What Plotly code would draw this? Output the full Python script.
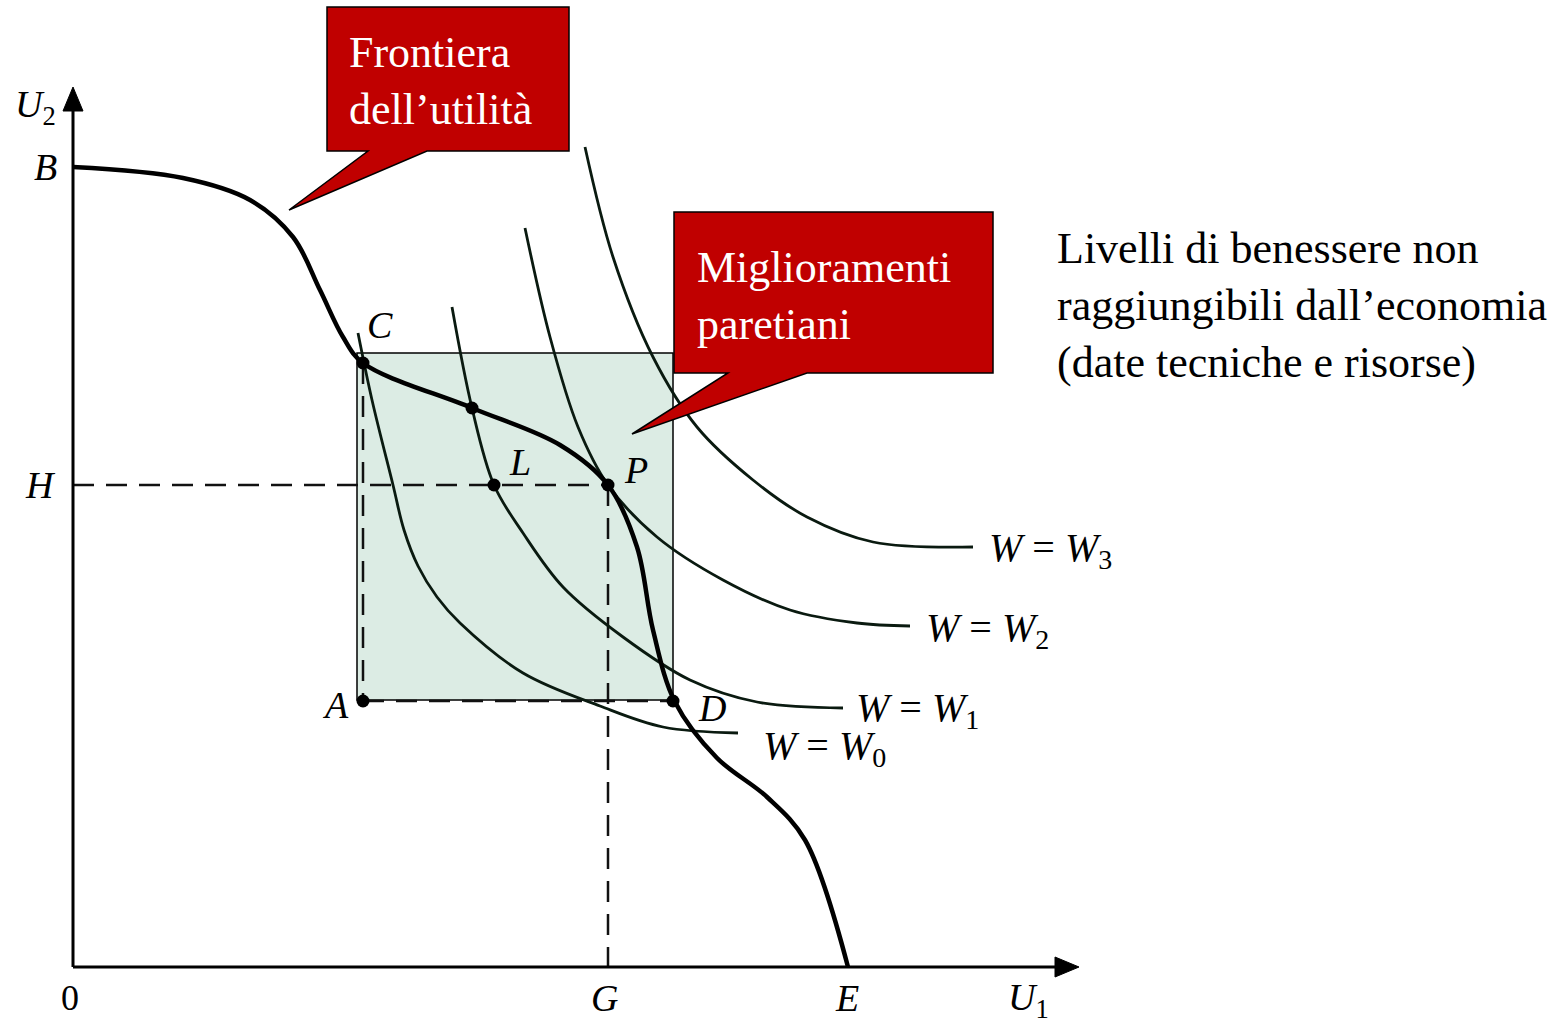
import plotly.graph_objects as go

# ---- data (U1, U2 units; origin at the axes' corner) ----
frontier_u1 = [0, 110, 177, 220, 247, 270, 290, 399, 487, 535, 564, 580, 602, 644, 694, 732, 775]
frontier_u2 = [800, 789, 767, 730, 677, 630, 604, 559, 522, 482, 420, 337, 265, 209, 170, 127, 0]

w0_u1 = [285, 299, 320, 331, 345, 364, 387, 450, 527, 590, 665]
w0_u2 = [634, 567, 482, 437, 401, 370, 344, 294, 261, 240, 234]

w1_u1 = [379, 399, 421, 450, 490, 550, 617, 684, 770]
w1_u2 = [660, 559, 482, 434, 380, 330, 287, 265, 259]

w2_u1 = [452, 477, 505, 535, 584, 650, 717, 784, 837]
w2_u2 = [739, 630, 540, 482, 430, 387, 357, 344, 341]

w3_u1 = [512, 540, 580, 624, 680, 734, 800, 900]
w3_u2 = [820, 710, 610, 540, 487, 450, 425, 420]

w_labels = ["<i>W</i> = <i>W</i><sub>0</sub>", "<i>W</i> = <i>W</i><sub>1</sub>",
            "<i>W</i> = <i>W</i><sub>2</sub>", "<i>W</i> = <i>W</i><sub>3</sub>"]

point_names = ["C", "", "L", "P", "A", "D"]
point_u1 = [290, 399, 421, 535, 290, 600]
point_u2 = [604, 559, 482, 482, 266, 266]

H_level = 482
G_level = 535
E_level = 775
B_level = 800

FONT = "Liberation Serif"

fig = go.Figure()

# shaded Pareto-improvement box
fig.add_shape(type="rect", x0=284, x1=600, y0=267, y1=614, xref="x", yref="y",
              fillcolor="rgb(220,236,228)", line=dict(color="black", width=1.5), layer="below")

# dashed guides
dash = "21px,12px"
guides = [
    ([0, G_level], [H_level, H_level]),
    ([G_level, G_level], [H_level, 0]),
    ([point_u1[0], point_u1[4]], [point_u2[0], point_u2[4]]),
    ([point_u1[4], point_u1[5]], [point_u2[4], point_u2[5]]),
]
for gx, gy in guides:
    fig.add_trace(go.Scatter(x=gx, y=gy, mode="lines", line=dict(color="#111", width=2.5, dash=dash),
                             hoverinfo="skip", showlegend=False))

# welfare curves
for cx, cy in [(w0_u1, w0_u2), (w1_u1, w1_u2), (w2_u1, w2_u2), (w3_u1, w3_u2)]:
    fig.add_trace(go.Scatter(x=cx, y=cy, mode="lines",
                             line=dict(color="#0a1a10", width=2.8, shape="spline", smoothing=1.0),
                             hoverinfo="skip", showlegend=False))

# utility frontier
fig.add_trace(go.Scatter(x=frontier_u1, y=frontier_u2, mode="lines",
                         line=dict(color="black", width=4.5, shape="spline", smoothing=1.0),
                         hoverinfo="skip", showlegend=False))

# axes
fig.add_trace(go.Scatter(x=[0, 0], y=[0, 862], mode="lines", line=dict(color="black", width=3),
                         hoverinfo="skip", showlegend=False))
fig.add_trace(go.Scatter(x=[0, 988], y=[0, 0], mode="lines", line=dict(color="black", width=3),
                         hoverinfo="skip", showlegend=False))
fig.add_shape(type="path", path="M -10 856 L 10 856 L 0 880 Z", xref="x", yref="y",
              fillcolor="black", line=dict(color="black", width=1))
fig.add_shape(type="path", path="M 982 -10 L 982 10 L 1006 0 Z", xref="x", yref="y",
              fillcolor="black", line=dict(color="black", width=1))

# points
fig.add_trace(go.Scatter(x=point_u1, y=point_u2, mode="markers", marker=dict(color="black", size=13),
                         hoverinfo="skip", showlegend=False))

# callouts
callout_line = dict(color="black", width=1.5)
fig.add_shape(type="path", xref="x", yref="y", layer="above",
              path="M 254 960 L 496 960 L 496 816 L 354 816 L 216 757 L 295 816 L 254 816 Z",
              fillcolor="#c00000", line=callout_line)
fig.add_shape(type="path", xref="x", yref="y", layer="above",
              path="M 601 755 L 920 755 L 920 594 L 734 594 L 559 533 L 655 594 L 601 594 Z",
              fillcolor="#c00000", line=callout_line)

def ann(x, y, text, size=36, color="black", xanchor="center", yanchor="middle", align="left"):
    fig.add_annotation(x=x, y=y, xref="x", yref="y", text=text, showarrow=False,
                       xanchor=xanchor, yanchor=yanchor, align=align,
                       font=dict(family=FONT, size=size, color=color))

ann(274, 886, "Frontiera<br>dell’utilità", size=44, color="white", xanchor="left")
ann(622, 671, "Miglioramenti<br>paretiani", size=44, color="white", xanchor="left")
ann(982, 662, "Livelli di benessere non<br>raggiungibili dall’economia<br>(date tecniche e risorse)",
    size=44, xanchor="left")

# axis letters
ann(-38, 860, "<i>U</i><sub>2</sub>", size=38)
ann(-28, B_level, "<i>B</i>", size=38)
ann(-33, H_level, "<i>H</i>", size=38)
ann(-3, -31, "0", size=36)
ann(G_level - 4, -31, "<i>G</i>", size=38)
ann(E_level - 1, -31, "<i>E</i>", size=38)
ann(955, -33, "<i>U</i><sub>1</sub>", size=38)

# point letters
ann(307, 642, "<i>C</i>", size=38)
ann(447, 505, "<i>L</i>", size=38)
ann(563, 497, "<i>P</i>", size=38)
ann(262, 262, "<i>A</i>", size=38)
ann(639, 259, "<i>D</i>", size=38)

# welfare labels
ann(688, 219, w_labels[0], size=40, xanchor="left")
ann(781, 257, w_labels[1], size=40, xanchor="left")
ann(851, 337, w_labels[2], size=40, xanchor="left")
ann(914, 417, w_labels[3], size=40, xanchor="left")

fig.update_layout(
    width=1567, height=1025, margin=dict(l=0, r=0, t=0, b=0),
    paper_bgcolor="white", plot_bgcolor="white",
    xaxis=dict(range=[-73, 1494], visible=False, fixedrange=True),
    yaxis=dict(range=[-58, 967], visible=False, fixedrange=True),
    showlegend=False,
)

fig.write_html("out.html", config={"displayModeBar": False},
               post_script="document.body.style.margin='0';document.body.style.overflow='hidden';")
